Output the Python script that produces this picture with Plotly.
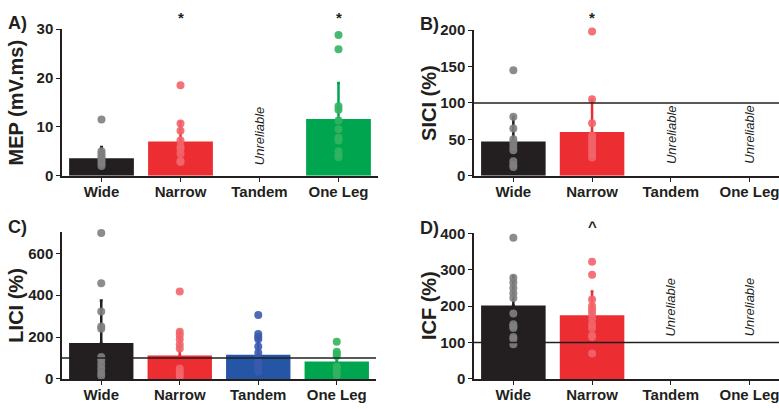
import plotly.graph_objects as go

W, H = 779, 409
categories = ["Wide", "Narrow", "Tandem", "One Leg"]

# Panel A: MEP (mV.ms)
mep_mean = [3.6, 7.0, None, 11.6]
mep_err = [2.3, 4.0, None, 7.4]
mep_dots = {
    "Wide": [11.5, 5.0, 4.5, 4.0, 3.5, 3.0, 2.5, 2.0],
    "Narrow": [18.5, 10.7, 9.2, 7.2, 6.0, 5.5, 4.5, 3.0, 2.8],
    "One Leg": [28.8, 25.9, 14.2, 13.5, 11.3, 9.5, 7.8, 7.2, 5.0, 4.3, 3.8],
}
# Panel B: SICI (%)
sici_mean = [47, 60, None, None]
sici_err = [34, 44, None, None]
sici_dots = {
    "Wide": [145, 81, 65, 50, 45, 40, 35, 20, 15, 12],
    "Narrow": [198, 105, 72, 55, 50, 45, 40, 35, 30, 25],
}
# Panel C: LICI (%)
lici_mean = [172, 112, 115, 83]
lici_err = [202, 116, 90, 45]
lici_dots = {
    "Wide": [697, 457, 322, 250, 240, 105, 90, 70, 50, 30, 15],
    "Narrow": [418, 225, 210, 190, 165, 145, 50, 35, 20, 10],
    "Tandem": [305, 215, 200, 190, 155, 125, 100, 75, 55, 35],
    "One Leg": [178, 130, 120, 110, 60, 50, 30, 15],
}
# Panel D: ICF (%)
icf_mean = [202, 175, None, None]
icf_err = [80, 65, None, None]
icf_dots = {
    "Wide": [388, 278, 265, 250, 235, 222, 180, 150, 145, 140, 115, 110, 95],
    "Narrow": [322, 286, 218, 200, 190, 180, 165, 150, 140, 120, 115, 70],
}

bar_colors = {"Wide": "#231f20", "Narrow": "#ec2d32", "Tandem": "#2456a5", "One Leg": "#00a550"}
dot_colors = {"Wide": "rgba(128,128,128,0.9)", "Narrow": "rgba(242,100,106,0.9)",
              "Tandem": "rgba(60,90,175,0.9)", "One Leg": "rgba(50,180,95,0.9)"}

FONT = "Liberation Sans, Arial"
INK = "#231f20"

fig = go.Figure()

panels = [
    dict(n="", px=(62, 378, 21, 174), rng=[0, 30], dt=10, xr=[-0.5, 3.5],
         mean=mep_mean, err=mep_err, dots=mep_dots, ref=None, title="MEP (mV.ms)", lab="A)",
         tx=16, lx=17, unrel=[("Tandem", 8.2)], marks=[("Narrow", "*"), ("One Leg", "*")], my=9),
    dict(n="2", px=(474, 779, 22, 174), rng=[0, 200], dt=50, xr=[-0.5, 3.375],
         mean=sici_mean, err=sici_err, dots=sici_dots, ref=100, title="SICI (%)", lab="B)",
         tx=429, lx=430, unrel=[("Tandem", 57), ("One Leg", 57)], marks=[("Narrow", "*")], my=9),
    dict(n="3", px=(62, 376, 233, 386), rng=[0, 700], dt=200, xr=[-0.5, 3.5],
         mean=lici_mean, err=lici_err, dots=lici_dots, ref=100, title="LICI (%)", lab="C)",
         tx=16, lx=17, unrel=[], marks=[], my=0),
    dict(n="4", px=(474, 779, 234, 386), rng=[0, 400], dt=100, xr=[-0.5, 3.375],
         mean=icf_mean, err=icf_err, dots=icf_dots, ref=100, title="ICF (%)", lab="D)",
         tx=429, lx=430, unrel=[("Tandem", 198), ("One Leg", 198)], marks=[("Narrow", "^")], my=227),
]

annotations = []
shapes = []
for p in panels:
    n = p["n"]
    xa, ya = "x" + n, "y" + n
    x0, x1, yt, yb = p["px"]
    fig.add_trace(go.Bar(
        x=categories, y=p["mean"], xaxis=xa, yaxis=ya, width=0.82,
        marker=dict(color=[bar_colors[c] for c in categories], line=dict(width=0)),
        showlegend=False, hoverinfo="skip"))
    for c, m, e in zip(categories, p["mean"], p["err"]):
        if m is None:
            continue
        fig.add_trace(go.Scatter(
            x=[c], y=[m], xaxis=xa, yaxis=ya, mode="markers",
            marker=dict(size=0.1, color="rgba(0,0,0,0)"),
            error_y=dict(type="data", array=[e], arrayminus=[0], symmetric=False,
                         color=bar_colors[c], thickness=2.5, width=1.5),
            showlegend=False, hoverinfo="skip"))
    for c, vals in p["dots"].items():
        fig.add_trace(go.Scatter(
            x=[c] * len(vals), y=vals, xaxis=xa, yaxis=ya, mode="markers",
            marker=dict(size=8, color=dot_colors[c], line=dict(width=0)),
            showlegend=False, hoverinfo="skip", cliponaxis=False))
    dom_x = [x0 / W, x1 / W]
    dom_y = [1 - yb / H, 1 - yt / H]
    tf = dict(family=FONT, size=15, color=INK, weight="bold")
    axx = dict(domain=dom_x, range=p["xr"], type="category", anchor=ya,
               showline=True, linecolor=INK, linewidth=1.5,
               ticks="outside", ticklen=4, tickwidth=1.2, tickcolor=INK,
               ticklabelstandoff=-3,
               tickfont=tf, showgrid=False, zeroline=False, fixedrange=True)
    axy = dict(domain=dom_y, range=p["rng"], dtick=p["dt"], anchor=xa,
               showline=True, linecolor=INK, linewidth=1.5,
               ticks="outside", ticklen=4, tickwidth=1.2, tickcolor=INK,
               tickfont=tf, showgrid=False, zeroline=False, fixedrange=True)
    fig.layout["xaxis" + n] = axx
    fig.layout["yaxis" + n] = axy
    if p["ref"] is not None:
        shapes.append(dict(type="line", xref=xa + " domain", yref=ya, x0=0, x1=1,
                           y0=p["ref"], y1=p["ref"], line=dict(color=INK, width=1.5),
                           layer="above"))
    annotations.append(dict(text="<b>" + p["title"] + "</b>", xref="paper", yref="paper",
                            x=p["tx"] / W, y=1 - (yt + yb) / 2 / H, textangle=-90,
                            showarrow=False, xanchor="center", yanchor="middle",
                            font=dict(family=FONT, size=20, color=INK)))
    annotations.append(dict(text="<b>" + p["lab"] + "</b>", xref="paper", yref="paper",
                            x=p["lx"] / W, y=1 - (yt - 6) / H, showarrow=False,
                            xanchor="center", yanchor="middle",
                            font=dict(family=FONT, size=18, color=INK)))
    for c, v in p["unrel"]:
        annotations.append(dict(text="<i>Unreliable</i>", xref=xa, yref=ya, x=c, y=v,
                                textangle=-90, showarrow=False,
                                font=dict(family=FONT, size=13, color=INK)))
    for c, s in p["marks"]:
        annotations.append(dict(text="<b>" + s + "</b>", xref=xa, yref="paper", x=c,
                                y=1 - p["my"] / H, showarrow=False, yanchor="middle",
                                font=dict(family=FONT, size=15, color=INK)))

fig.update_layout(width=W, height=H, margin=dict(l=0, r=0, t=0, b=0),
                  paper_bgcolor="white", plot_bgcolor="white", bargap=0.18,
                  annotations=annotations, shapes=shapes)

fig.write_html("out.html")
